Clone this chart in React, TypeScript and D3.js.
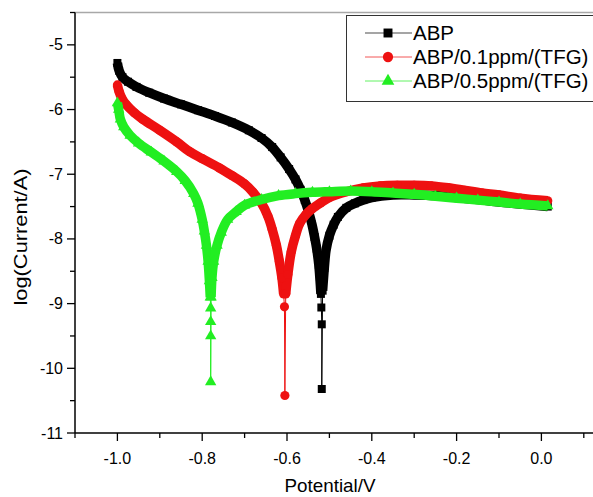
import React from "react";
import * as d3 from "d3";

// ---------- data (potential V, log(current/A)) ----------
const abpCathodic: [number, number][] = [
  [-1.0, -5.28], [-0.996, -5.4], [-0.988, -5.5], [-0.975, -5.57], [-0.955, -5.65],
  [-0.925, -5.74], [-0.89, -5.83], [-0.85, -5.92], [-0.81, -6.01], [-0.77, -6.1],
  [-0.73, -6.2], [-0.69, -6.32], [-0.66, -6.44], [-0.635, -6.58], [-0.615, -6.74],
  [-0.595, -6.92], [-0.58, -7.08], [-0.568, -7.24], [-0.558, -7.4], [-0.549, -7.58],
  [-0.541, -7.78], [-0.535, -7.97], [-0.53, -8.15], [-0.525, -8.4], [-0.522, -8.65],
  [-0.52, -8.85],
];
const abpTail: [number, number][] = [
  [-0.519, -9.06], [-0.518, -9.32], [-0.518, -10.32],
];
const abpAnodic: [number, number][] = [
  [-0.516, -8.8], [-0.512, -8.45], [-0.508, -8.18], [-0.5, -7.95], [-0.49, -7.78],
  [-0.48, -7.66], [-0.46, -7.52], [-0.44, -7.45], [-0.42, -7.4], [-0.4, -7.36],
  [-0.35, -7.32], [-0.3, -7.32], [-0.25, -7.33], [-0.2, -7.36], [-0.15, -7.39],
  [-0.1, -7.43], [-0.05, -7.46], [0.015, -7.5],
];

const tfg01Cathodic: [number, number][] = [
  [-1.0, -5.62], [-0.996, -5.72], [-0.99, -5.82], [-0.98, -5.92], [-0.96, -6.05],
  [-0.94, -6.15], [-0.9, -6.32], [-0.86, -6.5], [-0.83, -6.65], [-0.8, -6.76],
  [-0.76, -6.9], [-0.73, -7.02], [-0.7, -7.15], [-0.68, -7.28], [-0.66, -7.45],
  [-0.645, -7.65], [-0.635, -7.85], [-0.625, -8.1], [-0.618, -8.35], [-0.612, -8.6],
  [-0.608, -8.85],
];
const tfg01Tail: [number, number][] = [
  [-0.606, -9.05], [-0.605, -10.42],
];
const tfg01Anodic: [number, number][] = [
  [-0.603, -8.85], [-0.598, -8.55], [-0.59, -8.2], [-0.58, -7.95], [-0.57, -7.76],
  [-0.555, -7.62], [-0.54, -7.53], [-0.52, -7.44], [-0.5, -7.36], [-0.46, -7.27],
  [-0.42, -7.21], [-0.38, -7.18], [-0.34, -7.17], [-0.3, -7.17], [-0.26, -7.18],
  [-0.22, -7.21], [-0.18, -7.25], [-0.14, -7.29], [-0.1, -7.32], [-0.05, -7.37],
  [0.015, -7.41],
];

const tfg05Cathodic: [number, number][] = [
  [-1.0, -5.9], [-0.997, -6.0], [-0.993, -6.15], [-0.985, -6.27], [-0.97, -6.4],
  [-0.95, -6.52], [-0.92, -6.66], [-0.89, -6.8], [-0.86, -6.96], [-0.84, -7.1],
  [-0.82, -7.3], [-0.81, -7.45], [-0.8, -7.7], [-0.795, -7.88], [-0.79, -8.1],
  [-0.786, -8.35], [-0.783, -8.65], [-0.781, -8.9],
];
const tfg05Tail: [number, number][] = [
  [-0.78, -9.07], [-0.78, -9.28], [-0.78, -9.5], [-0.78, -10.21],
];
const tfg05Anodic: [number, number][] = [
  [-0.779, -8.9], [-0.777, -8.6], [-0.773, -8.35], [-0.765, -8.1], [-0.755, -7.9],
  [-0.74, -7.7], [-0.72, -7.58], [-0.7, -7.48], [-0.66, -7.39], [-0.62, -7.33],
  [-0.58, -7.3], [-0.54, -7.28], [-0.5, -7.27], [-0.45, -7.26], [-0.4, -7.27],
  [-0.35, -7.29], [-0.3, -7.31], [-0.25, -7.34], [-0.2, -7.37], [-0.15, -7.4],
  [-0.1, -7.43], [-0.05, -7.46], [0.015, -7.49],
];

const seriesNames = ["ABP", "ABP/0.1ppm/(TFG)", "ABP/0.5ppm/(TFG)"];
const seriesColors = ["#000000", "#ee1111", "#22ee22"];
const seriesSymbols = ["square", "circle", "triangle"];

const xMajorTicks = [-1.0, -0.8, -0.6, -0.4, -0.2, 0.0];
const xMinorTicks = [-1.1, -0.9, -0.7, -0.5, -0.3, -0.1, 0.1];
const yMajorTicks = [-11, -10, -9, -8, -7, -6, -5];
const yMinorTicks = [-10.5, -9.5, -8.5, -7.5, -6.5, -5.5, -4.5];

const xTitle = "Potential/V";
const yTitle = "log(Current/A)";

const FONT = "'Liberation Sans', Arial, sans-serif";

export default function App() {
  const W = 593;
  const H = 497;
  const x = d3.scaleLinear().domain([-1.1, 0.2]).range([75, 626.2]);
  const y = d3.scaleLinear().domain([-11, -4.5]).range([433, 12.5]);

  const series = [
    { c: abpCathodic, t: abpTail, a: abpAnodic },
    { c: tfg01Cathodic, t: tfg01Tail, a: tfg01Anodic },
    { c: tfg05Cathodic, t: tfg05Tail, a: tfg05Anodic },
  ];

  const smooth = d3
    .line<[number, number]>()
    .x((d) => x(d[0]))
    .y((d) => y(d[1]))
    .curve(d3.curveCatmullRom.alpha(0.5));
  const straight = d3
    .line<[number, number]>()
    .x((d) => x(d[0]))
    .y((d) => y(d[1]));

  const symPath = (kind: string, scale = 1) => {
    const type =
      kind === "square" ? d3.symbolSquare : kind === "circle" ? d3.symbolCircle : d3.symbolTriangle;
    const size = kind === "square" ? 64 : kind === "circle" ? 66 : 56;
    return d3.symbol().type(type).size(size * scale)() as string;
  };

  const xAxisY = y(-11);
  const yAxisX = x(-1.1);
  const topY = y(-4.5);

  return (
    <svg
      width={W}
      height={H}
      style={{ position: "absolute", left: 0, top: 0, background: "#fff" }}
      fontFamily={FONT}
    >
      <rect x={0} y={0} width={W} height={H} fill="#fff" />

      {/* series */}
      {series.map((s, i) => {
        const col = seriesColors[i];
        const tailPts: [number, number][] = [s.c[s.c.length - 1], ...s.t, s.a[0]];
        const sp = symPath(seriesSymbols[i]);
        const allPts = [...s.c, ...s.t, ...s.a];
        return (
          <g key={i}>
            <path d={straight(tailPts) as string} fill="none" stroke={col} strokeWidth={1} />
            <path
              d={smooth(s.c) as string}
              fill="none"
              stroke={col}
              strokeWidth={9.5}
              strokeLinejoin="round"
              strokeLinecap="butt"
            />
            <path
              d={smooth(s.a) as string}
              fill="none"
              stroke={col}
              strokeWidth={9.5}
              strokeLinejoin="round"
              strokeLinecap="butt"
            />
            {allPts.map((p, j) => (
              <path
                key={j}
                d={sp}
                transform={`translate(${x(p[0])},${y(p[1])})`}
                fill={col}
              />
            ))}
          </g>
        );
      })}

      {/* top frame */}
      <line x1={yAxisX} x2={W + 10} y1={topY} y2={topY} stroke="#a8a8a8" strokeWidth={1.5} />

      {/* axes */}
      <line x1={yAxisX} x2={W + 10} y1={xAxisY} y2={xAxisY} stroke="#000" strokeWidth={1.5} />
      <line x1={yAxisX} x2={yAxisX} y1={topY} y2={xAxisY} stroke="#000" strokeWidth={1.5} />

      {xMajorTicks.map((t) => (
        <g key={"xM" + t}>
          <line x1={x(t)} x2={x(t)} y1={xAxisY} y2={xAxisY + 8} stroke="#000" strokeWidth={1.3} />
          <text x={x(t)} y={463.5} textAnchor="middle" fontSize={16} fill="#000">
            {d3.format(".1f")(t).replace("−", "-")}
          </text>
        </g>
      ))}
      {xMinorTicks.map((t) => (
        <line key={"xm" + t} x1={x(t)} x2={x(t)} y1={xAxisY} y2={xAxisY + 5} stroke="#000" strokeWidth={1.3} />
      ))}
      {yMajorTicks.map((t) => (
        <g key={"yM" + t}>
          <line x1={yAxisX - 8} x2={yAxisX} y1={y(t)} y2={y(t)} stroke="#000" strokeWidth={1.3} />
          <text x={63} y={y(t) + 5.5} textAnchor="end" fontSize={16} fill="#000">
            {String(t)}
          </text>
        </g>
      ))}
      {yMinorTicks.map((t) => (
        <line key={"ym" + t} x1={yAxisX - 5} x2={yAxisX} y1={y(t)} y2={y(t)} stroke="#000" strokeWidth={1.3} />
      ))}

      {/* axis titles */}
      <text
        x={330}
        y={492}
        textAnchor="middle"
        fontSize={18.5}
        textLength={91}
        lengthAdjust="spacingAndGlyphs"
        fill="#000"
      >
        {xTitle}
      </text>
      <text
        transform="translate(26.5,237) rotate(-90)"
        textAnchor="middle"
        fontSize={19}
        textLength={137}
        lengthAdjust="spacingAndGlyphs"
        fill="#000"
      >
        {yTitle}
      </text>

      {/* legend */}
      <rect x={346.5} y={15.5} width={300} height={86} fill="#fff" stroke="#333" strokeWidth={1} />
      {seriesNames.map((n, i) => {
        const cy = 33 + i * 24;
        return (
          <g key={n}>
            <line x1={365} x2={412} y1={cy} y2={cy} stroke={seriesColors[i]} strokeWidth={1} opacity={0.7} />
            <path d={symPath(seriesSymbols[i], 1.25)} transform={`translate(388,${cy})`} fill={seriesColors[i]} />
            <text x={413} y={cy + 7} fontSize={20.5} fill="#000">
              {n}
            </text>
          </g>
        );
      })}
    </svg>
  );
}
